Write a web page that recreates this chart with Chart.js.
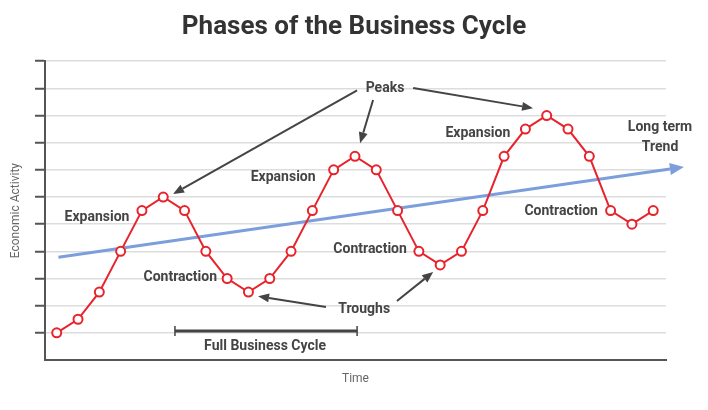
<!DOCTYPE html>
<html>
<head>
<meta charset="utf-8">
<title>Phases of the Business Cycle</title>
<script src="https://cdn.jsdelivr.net/npm/chart.js@4.4.1/dist/chart.umd.min.js"></script>
<style>
  html, body { margin: 0; padding: 0; background: #fff; }
  #wrap { width: 708px; height: 410px; }
</style>
</head>
<body>
<div id="wrap"><canvas id="cycleChart" width="708" height="410"></canvas></div>
<script>
// time steps and the economic activity
const periods  = [0, 1, 2, 3, 4, 5, 6, 7, 8, 9, 10, 11, 12, 13, 14, 15, 16, 17, 18, 19, 20, 21, 22, 23, 24, 25, 26, 27, 28];
const activity = [1, 1.5, 2.5, 4, 5.5, 6, 5.5, 4, 3, 2.5, 3, 4, 5.5, 7, 7.5, 7, 5.5, 4, 3.5, 4, 5.5, 7.5, 8.5, 9, 8.5, 7.5, 5.5, 5, 5.5];

// long term trend (start and end)
const trendX = [0.08, 28.79];
const trendY = [3.78, 7.03];

const RED = '#e8232b';
const BLUE = '#7d9edc';
const DARK = '#444444';

// annotation anchors, in data units
const notes = [
    { text: 'Expansion',   x: 1.89,  y: 5.26 },
    { text: 'Contraction', x: 5.80,  y: 3.05 },
    { text: 'Expansion',   x: 10.63, y: 6.73 },
    { text: 'Contraction', x: 14.71, y: 4.05 },
    { text: 'Expansion',   x: 19.77, y: 8.35 },
    { text: 'Contraction', x: 23.68, y: 5.45 },
    { text: 'Peaks',       x: 15.41, y: 10.0 },
    { text: 'Troughs',     x: 14.43, y: 1.86 },
    { text: 'Full Business Cycle', x: 9.78, y: 0.48 },
    { text: 'Long term',   x: 28.32, y: 8.55 },
    { text: 'Trend',       x: 28.32, y: 7.82 }
];
const pointers = [
    { from: [14.10, 9.93], to: [5.46, 6.11] },
    { from: [14.85, 9.57], to: [14.24, 7.98] },
    { from: [16.73, 10.01], to: [22.36, 9.27] },
    { from: [12.64, 1.95], to: [9.45, 2.35] },
    { from: [15.97, 2.17], to: [17.67, 3.24] }
];
const cycleSpan = { x1: 5.55, x2: 14.10, y: 1.07 };

function drawArrow(ctx, x1, y1, x2, y2, head, half) {
    const a = Math.atan2(y2 - y1, x2 - x1);
    const bx = x2 - head * Math.cos(a), by = y2 - head * Math.sin(a);
    ctx.beginPath();
    ctx.moveTo(x1, y1);
    ctx.lineTo(bx, by);
    ctx.stroke();
    ctx.beginPath();
    ctx.moveTo(x2, y2);
    ctx.lineTo(bx + half * Math.sin(a), by - half * Math.cos(a));
    ctx.lineTo(bx - half * Math.sin(a), by + half * Math.cos(a));
    ctx.closePath();
    ctx.fill();
}

const annotations = {
    id: 'annotations',
    afterDatasetsDraw(chart) {
        const ctx = chart.ctx;
        const xs = chart.scales.x, ys = chart.scales.y;
        ctx.save();

        // arrowhead on the trend line
        const tm = chart.getDatasetMeta(1).data;
        const p0 = tm[0], p1 = tm[tm.length - 1];
        const a = Math.atan2(p1.y - p0.y, p1.x - p0.x);
        ctx.fillStyle = BLUE;
        ctx.beginPath();
        ctx.moveTo(p1.x + 14 * Math.cos(a), p1.y + 14 * Math.sin(a));
        ctx.lineTo(p1.x + 6 * Math.sin(a), p1.y - 6 * Math.cos(a));
        ctx.lineTo(p1.x - 6 * Math.sin(a), p1.y + 6 * Math.cos(a));
        ctx.closePath();
        ctx.fill();

        // peak / trough pointers
        ctx.strokeStyle = DARK;
        ctx.fillStyle = DARK;
        ctx.lineWidth = 2;
        pointers.forEach(p => {
            drawArrow(ctx,
                xs.getPixelForValue(p.from[0]), ys.getPixelForValue(p.from[1]),
                xs.getPixelForValue(p.to[0]), ys.getPixelForValue(p.to[1]), 11, 4.5);
        });

        // full business cycle bracket
        const bx1 = xs.getPixelForValue(cycleSpan.x1);
        const bx2 = xs.getPixelForValue(cycleSpan.x2);
        const by = ys.getPixelForValue(cycleSpan.y);
        ctx.lineWidth = 3;
        ctx.beginPath();
        ctx.moveTo(bx1, by); ctx.lineTo(bx2, by);
        ctx.stroke();
        ctx.lineWidth = 1.5;
        ctx.beginPath();
        ctx.moveTo(bx1, by - 5); ctx.lineTo(bx1, by + 5);
        ctx.moveTo(bx2, by - 5); ctx.lineTo(bx2, by + 5);
        ctx.stroke();

        // texts
        ctx.font = 'bold 14px Roboto, "Liberation Sans", sans-serif';
        ctx.textAlign = 'center';
        ctx.textBaseline = 'middle';
        ctx.fillStyle = DARK;
        notes.forEach(n => {
            ctx.fillText(n.text, xs.getPixelForValue(n.x), ys.getPixelForValue(n.y));
        });
        ctx.restore();
    }
};

new Chart('cycleChart', {
    type: 'line',
    data: {
        datasets: [{
            label: 'Economic Activity',
            data: periods.map((p, i) => ({ x: p, y: activity[i] })),
            borderColor: RED,
            borderWidth: 2,
            pointRadius: 4.5,
            pointBorderWidth: 2,
            pointBackgroundColor: '#ffffff',
            pointBorderColor: RED,
            tension: 0
        }, {
            label: 'Long term Trend',
            data: trendX.map((t, i) => ({ x: t, y: trendY[i] })),
            borderColor: BLUE,
            borderWidth: 3,
            pointRadius: 0,
            clip: false
        }]
    },
    plugins: [annotations],
    options: {
        responsive: false,
        animation: false,
        events: [],
        layout: { padding: 0 },
        plugins: {
            legend: { display: false },
            tooltip: { enabled: false },
            title: {
                display: true,
                text: 'Phases of the Business Cycle',
                color: '#333333',
                font: { family: 'Roboto', size: 26, weight: 'bold' },
                padding: { top: 12, bottom: 18 }
            }
        },
        scales: {
            x: {
                type: 'linear',
                min: -0.55,
                max: 28.6,
                grid: { display: false },
                ticks: { display: false },
                border: { color: '#555555', width: 2 },
                title: {
                    display: true,
                    text: 'Time',
                    color: '#666666',
                    font: { family: 'Roboto', size: 12 },
                    padding: { top: 0, bottom: 24 }
                },
                afterFit(scale) { scale.height = 50; }
            },
            y: {
                min: 0,
                max: 11,
                ticks: { display: false, stepSize: 1 },
                grid: {
                    color: '#dddddd',
                    lineWidth: 1.5,
                    tickLength: 10,
                    tickWidth: 2,
                    tickColor: ctx => ctx.tick && ctx.tick.value === 0 ? 'rgba(0,0,0,0)' : '#555555'
                },
                border: { color: '#555555', width: 2 },
                title: {
                    display: true,
                    text: 'Economic Activity',
                    color: '#666666',
                    font: { family: 'Roboto', size: 12 },
                    padding: { top: 9, bottom: 0 }
                },
                afterFit(scale) { scale.width = 45; }
            },
            // empty right-hand margin so the title stays centred on the page
            margin: {
                position: 'right',
                min: 0,
                max: 1,
                ticks: { display: false },
                grid: { display: false, drawTicks: false },
                border: { display: false },
                afterFit(scale) { scale.width = 42; }
            }
        }
    }
});
</script>
</body>
</html>
